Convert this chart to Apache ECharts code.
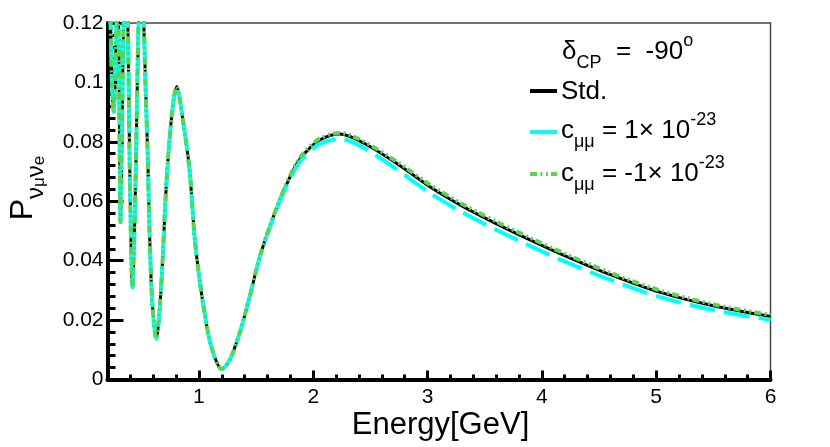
<!DOCTYPE html>
<html lang="en">
  <head>
    <meta charset="UTF-8" />
    <title>P(numu -> nue) vs energy</title>
    <script src="https://cdn.jsdelivr.net/npm/echarts@6/dist/echarts.min.js"></script>
    <style>
      html, body { margin: 0; padding: 0; background: #fff; }
    </style>
  </head>
  <body>
    <div id="chart" style="width: 830px; height: 447px"></div>

    <script>
      // energy points (GeV)
      var energy = [
        0.200, 0.215, 0.227, 0.240, 0.253, 0.266, 0.279, 0.288, 0.297, 0.305,
        0.314, 0.327, 0.341, 0.360, 0.378, 0.395, 0.419, 0.434, 0.448, 0.472,
        0.495, 0.517, 0.533, 0.553, 0.568, 0.592, 0.627, 0.662, 0.685, 0.714,
        0.758, 0.805, 0.860, 0.918, 0.962, 1.006, 1.050, 1.108, 1.200, 1.269,
        1.356, 1.444, 1.532, 1.620, 1.707, 1.780, 1.850, 1.926, 2.057, 2.232,
        2.436, 2.728, 3.020, 3.312, 3.604, 3.896, 4.188, 4.600, 5.030, 5.500,
        6.000
      ];

      // standard oscillation
      var probStd = [
        0.150, 0.135, 0.120, 0.099, 0.090, 0.099, 0.120, 0.127, 0.120, 0.085,
        0.053, 0.085, 0.120, 0.140, 0.120, 0.070, 0.031, 0.0476, 0.0712, 0.120,
        0.137, 0.120, 0.0986, 0.0739, 0.0493, 0.0257, 0.0137, 0.0268, 0.0426, 0.0649,
        0.0873, 0.0986, 0.0873, 0.0705, 0.0480, 0.0335, 0.0223, 0.0110, 0.0035, 0.0066,
        0.0156, 0.0279, 0.0413, 0.0515, 0.0604, 0.0668, 0.0722, 0.0762, 0.0806, 0.0826,
        0.0797, 0.0728, 0.0649, 0.0582, 0.0524, 0.0470, 0.0419, 0.0353, 0.0294, 0.0248,
        0.0212
      ];

      // c_mumu = 1e-23
      var probPlus = [
        0.150, 0.135, 0.120, 0.099, 0.090, 0.099, 0.120, 0.127, 0.120, 0.085,
        0.053, 0.085, 0.120, 0.140, 0.120, 0.070, 0.031, 0.0476, 0.0712, 0.120,
        0.137, 0.120, 0.0986, 0.0739, 0.0493, 0.0257, 0.0137, 0.0268, 0.0426, 0.0649,
        0.0873, 0.0986, 0.0873, 0.0705, 0.0480, 0.0335, 0.0223, 0.0110, 0.0035, 0.0066,
        0.0156, 0.0279, 0.0412, 0.0512, 0.0600, 0.0662, 0.0714, 0.0752, 0.0793, 0.0811,
        0.0781, 0.0708, 0.0628, 0.0561, 0.0503, 0.0450, 0.0399, 0.0335, 0.0278, 0.0234,
        0.0201
      ];

      // c_mumu = -1e-23
      var probMinus = [
        0.150, 0.135, 0.120, 0.099, 0.090, 0.099, 0.120, 0.127, 0.120, 0.085,
        0.053, 0.085, 0.120, 0.140, 0.120, 0.070, 0.031, 0.0476, 0.0712, 0.120,
        0.137, 0.120, 0.0986, 0.0739, 0.0493, 0.0257, 0.0137, 0.0268, 0.0426, 0.0649,
        0.0873, 0.0986, 0.0873, 0.0705, 0.0480, 0.0335, 0.0223, 0.0110, 0.0035, 0.0066,
        0.0156, 0.0279, 0.0413, 0.0516, 0.0606, 0.0671, 0.0726, 0.0767, 0.0811, 0.0830,
        0.0802, 0.0734, 0.0656, 0.0589, 0.0531, 0.0477, 0.0426, 0.0359, 0.0300, 0.0253,
        0.0217
      ];

      var font = "Liberation Sans";

      function pairs(ys) {
        return energy.map(function (e, i) {
          return [e, ys[i]];
        });
      }

      // rich text pieces for the legend (sub/superscripts)
      var rich = {
        m: { fontFamily: font, fontSize: 26, lineHeight: 40, color: "#000" },
        cp: { fontFamily: font, fontSize: 18, lineHeight: 23, verticalAlign: "bottom", color: "#000" },
        o: { fontFamily: font, fontSize: 18, lineHeight: 32, verticalAlign: "top", color: "#000" },
        mu: { fontFamily: font, fontSize: 18, lineHeight: 18, verticalAlign: "bottom", color: "#000" },
        sup: { fontFamily: font, fontSize: 18, lineHeight: 25, verticalAlign: "top", color: "#000" },
      };

      var myChart = echarts.init(document.getElementById("chart"));

      var option = {
        animation: false,
        grid: {
          left: 107.5,
          right: 59.5,
          top: 23,
          bottom: 67.5,
          show: true,
          borderColor: "#444",
          borderWidth: 1.5,
        },
        xAxis: [
          {
            type: "value",
            min: 0.2,
            max: 6,
            splitNumber: 6,
            position: "bottom",
            axisLine: { show: true, onZero: false, lineStyle: { color: "#000", width: 4 } },
            axisTick: { show: true, inside: true, length: 9, lineStyle: { color: "#000", width: 3 } },
            axisLabel: {
              fontFamily: font,
              fontSize: 21,
              color: "#000",
              margin: 7,
              formatter: function (v) {
                return Math.abs(v - Math.round(v)) < 1e-6 ? String(Math.round(v)) : "";
              },
            },
            splitLine: { show: false },
          },
          {
            // minor ticks every 0.2
            type: "value",
            min: 0.2,
            max: 6,
            interval: 0.2,
            position: "bottom",
            axisLine: { show: false },
            axisTick: { show: true, inside: true, length: 5, lineStyle: { color: "#000", width: 3 } },
            axisLabel: { show: false },
            splitLine: { show: false },
          },
        ],
        yAxis: {
          type: "value",
          min: 0,
          max: 0.12,
          interval: 0.02,
          axisLine: { show: true, onZero: false, lineStyle: { color: "#000", width: 4 } },
          axisTick: { show: true, inside: true, length: 16, lineStyle: { color: "#000", width: 3 } },
          minorTick: { show: true, splitNumber: 5, length: 8, lineStyle: { color: "#000", width: 3 } },
          axisLabel: { fontFamily: font, fontSize: 21, color: "#000", margin: 4 },
          splitLine: { show: false },
        },
        series: [
          {
            name: "Std.",
            type: "line",
            data: pairs(probStd),
            symbol: "none",
            smooth: 0.3,
            clip: true,
            z: 2,
            lineStyle: { color: "#000", width: 3 },
          },
          {
            name: "c=1e-23",
            type: "line",
            data: pairs(probPlus),
            symbol: "none",
            smooth: 0.3,
            clip: true,
            z: 3,
            lineStyle: { color: "#00ffff", width: 4, type: [26, 9] },
          },
          {
            name: "c=-1e-23",
            type: "line",
            data: pairs(probMinus),
            symbol: "none",
            smooth: 0.3,
            clip: true,
            z: 4,
            lineStyle: { color: "#59d454", width: 4, type: [7, 3.5, 2, 3.5, 2, 3] },
          },
        ],
        graphic: [
          // axis titles
          {
            type: "text",
            x: 440.5,
            y: 425,
            style: { text: "Energy[GeV]", fontFamily: font, fontSize: 31, fill: "#000", align: "center", verticalAlign: "middle" },
          },
          {
            type: "text",
            x: 23,
            y: 188,
            rotation: Math.PI / 2,
            style: {
              text: "{P|P}{nu|ν}{s|μ}{nu|ν}{s|e}",
              align: "center",
              verticalAlign: "middle",
              rich: {
                P: { fontFamily: font, fontSize: 32, lineHeight: 50, color: "#000" },
                nu: { fontFamily: font, fontSize: 24, lineHeight: 26, verticalAlign: "bottom", color: "#000" },
                s: { fontFamily: font, fontSize: 17, lineHeight: 16, verticalAlign: "bottom", color: "#000" },
              },
            },
          },
          // legend
          {
            type: "text",
            x: 562,
            y: 52,
            style: { text: "{m|δ}{cp|CP}{m|  =  -90}{o|o}", rich: rich, verticalAlign: "middle" },
          },
          { type: "line", shape: { x1: 530, y1: 91, x2: 557, y2: 91 }, style: { stroke: "#000", lineWidth: 4 } },
          {
            type: "text",
            x: 561,
            y: 92,
            style: { text: "{m|Std.}", rich: rich, verticalAlign: "middle" },
          },
          { type: "line", shape: { x1: 530, y1: 132, x2: 557, y2: 132 }, style: { stroke: "#00ffff", lineWidth: 4 } },
          {
            type: "text",
            x: 561,
            y: 131,
            style: { text: "{m|c}{mu|μμ}{m| = 1× 10}{sup|-23}", rich: rich, verticalAlign: "middle" },
          },
          {
            type: "line",
            shape: { x1: 530, y1: 174, x2: 557, y2: 174 },
            style: { stroke: "#59d454", lineWidth: 4, lineDash: [7, 3.5, 2, 3.5, 2, 3] },
          },
          {
            type: "text",
            x: 561,
            y: 174,
            style: { text: "{m|c}{mu|μμ}{m| = -1× 10}{sup|-23}", rich: rich, verticalAlign: "middle" },
          },
        ],
      };

      myChart.setOption(option);
    </script>
  </body>
</html>
